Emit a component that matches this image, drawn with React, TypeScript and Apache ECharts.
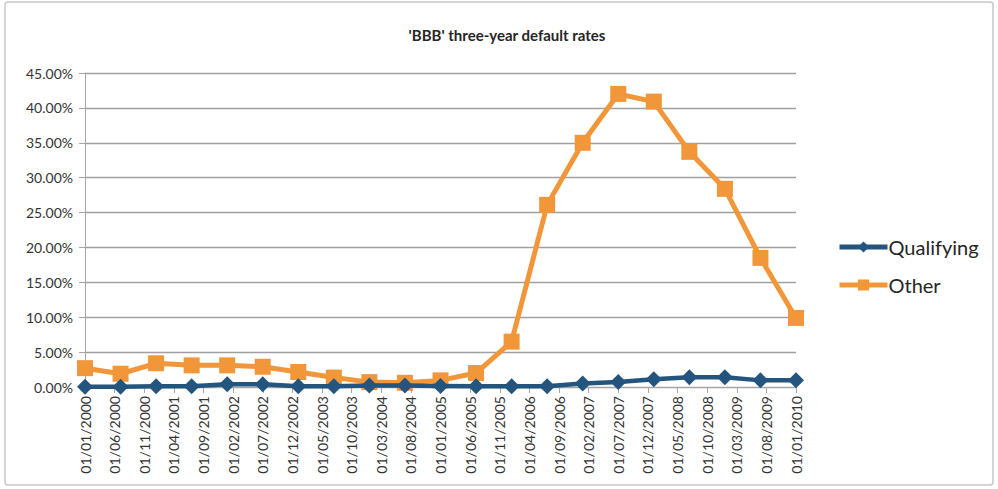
import React, { useEffect, useRef } from "react";
import * as echarts from "echarts";

const pointDates = [
  "2000-01", "2000-07", "2001-01", "2001-07", "2002-01", "2002-07", "2003-01",
  "2003-07", "2004-01", "2004-07", "2005-01", "2005-07", "2006-01", "2006-07",
  "2007-01", "2007-07", "2008-01", "2008-07", "2009-01", "2009-07", "2010-01",
];
const qualifying = [
  0.05, 0.05, 0.1, 0.1, 0.4, 0.4, 0.1, 0.1, 0.2, 0.2, 0.15, 0.1, 0.1, 0.1,
  0.5, 0.7, 1.1, 1.4, 1.4, 0.95, 0.95,
];
const other = [
  2.7, 1.9, 3.4, 3.1, 3.1, 2.9, 2.15, 1.35, 0.7, 0.6, 0.95, 2.0, 6.5, 26.1,
  35.0, 42.0, 40.9, 33.7, 28.4, 18.5, 9.9,
];
const startYear = 2000;
const labelStepMonths = 5;
const totalMonths = 120;
const yTicks = [0, 5, 10, 15, 20, 25, 30, 35, 40, 45];

const toMonth = (d: string) => {
  const [y, m] = d.split("-").map(Number);
  return (y - startYear) * 12 + (m - 1);
};
const monthLabel = (v: number) => {
  const y = startYear + Math.floor(v / 12);
  const m = (v % 12) + 1;
  return "01/" + String(m).padStart(2, "0") + "/" + y;
};

const FONT = "Lato";
const BLUE = "#24557e";
const ORANGE = "#f2963a";

export default function App() {
  const ref = useRef<HTMLDivElement>(null);
  useEffect(() => {
    if (!ref.current) return;
    const chart = echarts.init(ref.current, undefined, { renderer: "svg" });
    chart.setOption({
      animation: false,
      backgroundColor: "#ffffff",
      textStyle: { fontFamily: FONT },
      title: {
        text: "'BBB' three-year default rates",
        left: 502,
        textAlign: "center",
        top: 22,
        textStyle: { fontFamily: FONT, fontSize: 15, fontWeight: "bold", color: "#262626" },
      },
      graphic: [
        {
          type: "rect",
          shape: { x: 5, y: 2, width: 988, height: 483, r: 3 },
          style: { fill: "none", stroke: "#c8c8c8", lineWidth: 1.5 },
          silent: true,
        },
      ],
      legend: {
        orient: "vertical",
        left: 832,
        top: 232,
        itemWidth: 48,
        itemHeight: 14,
        itemGap: 18,
        lineStyle: { width: 5 },
        textStyle: { fontFamily: FONT, fontSize: 20, color: "#262626", padding: [0, 0, 0, -4] },
        data: ["Qualifying", "Other"],
      },
      grid: { left: 85, right: 202, top: 73, bottom: 102, containLabel: false },
      xAxis: {
        type: "value",
        min: 0,
        max: totalMonths,
        interval: labelStepMonths,
        splitLine: { show: false },
        axisLine: { show: true, onZero: false, lineStyle: { color: "#a6a6a6", width: 1 } },
        axisTick: { show: true, length: 6, lineStyle: { color: "#a6a6a6" } },
        axisLabel: {
          rotate: 90,
          fontSize: 14,
          fontFamily: FONT,
          color: "#333333",
          margin: 9,
          formatter: (v: number) => monthLabel(v),
        },
      },
      yAxis: {
        type: "value",
        min: 0,
        max: 45,
        interval: 5,
        axisLine: { show: true, lineStyle: { color: "#a6a6a6", width: 1 } },
        axisTick: { show: true, length: 6, lineStyle: { color: "#a6a6a6" } },
        splitLine: { show: true, lineStyle: { color: "#a0a0a0", width: 1.3 } },
        axisLabel: {
          fontSize: 14,
          fontFamily: FONT,
          color: "#333333",
          margin: 12,
          customValues: yTicks,
          formatter: (v: number) => v.toFixed(2) + "%",
        },
      },
      series: [
        {
          name: "Qualifying",
          type: "line",
          data: pointDates.map((d, i) => [toMonth(d), qualifying[i]]),
          symbol: "diamond",
          symbolSize: 16,
          lineStyle: { color: BLUE, width: 4.5 },
          itemStyle: { color: BLUE },
          z: 3,
        },
        {
          name: "Other",
          type: "line",
          data: pointDates.map((d, i) => [toMonth(d), other[i]]),
          symbol: "rect",
          symbolSize: 16,
          lineStyle: { color: ORANGE, width: 5 },
          itemStyle: { color: ORANGE },
          z: 2,
        },
      ],
    });
    return () => chart.dispose();
  }, []);
  return (
    <div
      ref={ref}
      style={{ position: "fixed", left: 0, top: 0, width: 998, height: 489 }}
    />
  );
}
